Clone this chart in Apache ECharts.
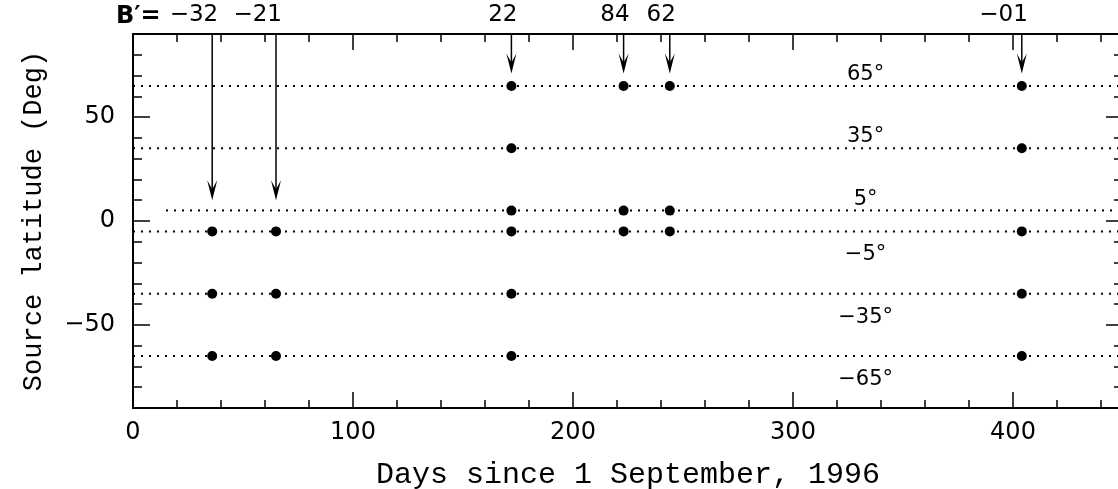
<!DOCTYPE html>
<html>
<head>
<meta charset="utf-8">
<script src="https://cdn.jsdelivr.net/npm/echarts@6/dist/echarts.min.js"></script>
<style>
  html, body { margin: 0; padding: 0; background: #fff; }
  #chart { width: 1118px; height: 489px; }
</style>
</head>
<body>
<div id="chart"></div>
<script>
// observation days (arrows along the top) and the B' angle written above each
const obsDays = [36, 65, 172, 223, 244, 404];
const bPrime = ["−32", "−21", "22", "84", "62", "−01"];
const arrowTip = [10, 10, 71, 71, 71, 71];

// source latitude tracks
const latitudes = [65, 35, 5, -5, -35, -65];
const latNames = ["65°", "35°", "5°", "−5°", "−35°", "−65°"];
const trackStart = [0, 0, 15, 0, 0, 0];

// days with a source on each track
const days65 = [172, 223, 244, 404];
const days35 = [172, 404];
const days5 = [172, 223, 244];
const daysM5 = [36, 65, 172, 223, 244, 404];
const daysM35 = [36, 65, 172, 404];
const daysM65 = [36, 65, 172, 404];
const trackDays = [days65, days35, days5, daysM5, daysM35, daysM65];

const yTicks = [-50, 0, 50];

const chart = echarts.init(document.getElementById("chart"));

const tickFont = { fontFamily: "DejaVu Sans", fontSize: 24, color: "#000" };
const minus = v => String(v).replace("-", "−");
const axisLineStyle = { onZero: false, lineStyle: { color: "#000", width: 2 } };
const tickStyle = { color: "#000", width: 1.5 };

const trackSeries = latitudes.map((lat, i) => ({
  type: "line",
  data: [[trackStart[i], lat], [450, lat]],
  symbol: "none",
  silent: true,
  lineStyle: { color: "#000", width: 2, type: [2, 6] },
  z: 1,
}));

const points = [];
trackDays.forEach((ds, i) => ds.forEach(d => points.push([d, latitudes[i]])));

const LABEL_DAY = 333;

const option = {
  animation: false,
  backgroundColor: "#fff",
  title: {
    text: "B′=",
    left: 111,
    top: 0,
    textStyle: { fontFamily: "DejaVu Sans", fontSize: 24, fontWeight: "bold", color: "#000" },
  },
  grid: { left: 133, top: 34, width: 990, height: 374, containLabel: false, outerBoundsMode: "none" },
  xAxis: [
    {
      type: "value", position: "bottom", min: 0, max: 450, interval: 100,
      axisLine: axisLineStyle,
      axisTick: { inside: true, length: 16, lineStyle: tickStyle },
      minorTick: { show: true, splitNumber: 5, length: 8, lineStyle: tickStyle },
      splitLine: { show: false },
      axisLabel: { ...tickFont, margin: 13, showMaxLabel: false },
      name: "Days since 1 September, 1996",
      nameLocation: "middle",
      nameGap: 52,
      nameTextStyle: { fontFamily: "Liberation Mono", fontSize: 30, color: "#000" },
    },
    {
      type: "value", position: "top", min: 0, max: 450, interval: 100,
      axisLine: axisLineStyle,
      axisTick: { inside: true, length: 16, lineStyle: tickStyle },
      minorTick: { show: true, splitNumber: 5, length: 8, lineStyle: tickStyle },
      splitLine: { show: false },
      axisLabel: { show: false },
    },
  ],
  yAxis: [
    {
      type: "value", position: "left", min: -90, max: 90, interval: 10,
      axisLine: { show: true, ...axisLineStyle },
      axisTick: { inside: true, length: 9, lineStyle: tickStyle },
      splitLine: { show: false },
      axisLabel: { ...tickFont, margin: 18, hideOverlap: false, formatter: v => (v % 50 === 0 ? minus(v) : "") },
      name: "Source latitude (Deg)",
      nameLocation: "middle",
      nameGap: 86,
      nameTextStyle: { fontFamily: "Liberation Mono", fontSize: 27, color: "#000" },
    },
    {
      type: "value", position: "left", min: -90, max: 90,
      axisLine: { show: false, onZero: false },
      axisTick: { inside: true, length: 17, customValues: yTicks, lineStyle: tickStyle },
      splitLine: { show: false },
      axisLabel: { show: false },
    },
    {
      type: "value", position: "right", min: -90, max: 90, interval: 10,
      axisLine: { show: true, ...axisLineStyle },
      axisTick: { inside: true, length: 9, lineStyle: tickStyle },
      splitLine: { show: false },
      axisLabel: { show: false },
    },
    {
      type: "value", position: "right", min: -90, max: 90,
      axisLine: { show: false, onZero: false },
      axisTick: { inside: true, length: 17, customValues: yTicks, lineStyle: tickStyle },
      splitLine: { show: false },
      axisLabel: { show: false },
    },
  ],
  series: [
    ...trackSeries,
    {
      type: "scatter",
      data: points,
      symbol: "circle",
      symbolSize: 10,
      itemStyle: { color: "#000", opacity: 1 },
      silent: true,
      z: 3,
    },
    {
      type: "scatter",
      data: latitudes.map(lat => [LABEL_DAY, lat]),
      symbolSize: 0,
      silent: true,
      itemStyle: { opacity: 1 },
      label: {
        show: true,
        fontFamily: "DejaVu Sans",
        fontSize: 21,
        color: "#000",
        formatter: p => latNames[p.dataIndex],
        position: "top",
        distance: 1,
      },
      labelLayout: p => (latitudes[p.dataIndex] < 0 ? { dy: 35 } : {}),
      z: 4,
    },
    {
      type: "custom",
      data: obsDays.map((d, i) => [d, 90, arrowTip[i]]),
      silent: true,
      clip: false,
      z: 5,
      renderItem: (params, api) => {
        const top = api.coord([api.value(0), api.value(1)]);
        const tip = api.coord([api.value(0), api.value(2)]);
        const x = top[0];
        return {
          type: "group",
          children: [
            { type: "line", shape: { x1: x, y1: top[1], x2: x, y2: tip[1] - 8 }, style: { stroke: "#000", lineWidth: 1.5 } },
            {
              type: "polygon",
              shape: { points: [[x, tip[1]], [x - 5, tip[1] - 20], [x, tip[1] - 11], [x + 5, tip[1] - 20]] },
              style: { fill: "#000" },
            },
            {
              type: "text",
              x: x + 6,
              y: top[1] - 19,
              style: {
                text: bPrime[params.dataIndex],
                fontFamily: "DejaVu Sans",
                fontSize: 23,
                fill: "#000",
                align: "right",
                verticalAlign: "middle",
              },
            },
          ],
        };
      },
    },
  ],
};

chart.setOption(option);
</script>
</body>
</html>
